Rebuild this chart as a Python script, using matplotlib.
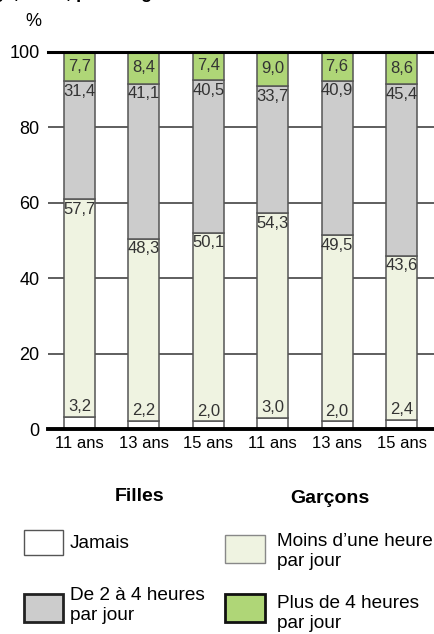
import matplotlib
matplotlib.use("Agg")
import matplotlib.pyplot as plt
from matplotlib.patches import Rectangle
import numpy as np

# data
ages = ["11 ans", "13 ans", "15 ans", "11 ans", "13 ans", "15 ans"]
groups = ["Filles", "Garçons"]
jamais = [3.2, 2.2, 2.0, 3.0, 2.0, 2.4]
moins_1h = [57.7, 48.3, 50.1, 54.3, 49.5, 43.6]
de_2_a_4h = [31.4, 41.1, 40.5, 33.7, 40.9, 45.4]
plus_4h = [7.7, 8.4, 7.4, 9.0, 7.6, 8.6]
series_names = ["Jamais", "Moins d\u2019une heure\npar jour",
                "De 2 à 4 heures\npar jour", "Plus de 4 heures\npar jour"]
colors = ["#ffffff", "#eff3e1", "#cccccc", "#afd677"]

plt.rcParams['font.family'] = ['Liberation Sans', 'DejaVu Sans']
narrow = ['Liberation Sans Narrow', 'Liberation Sans', 'DejaVu Sans']

W, H = 435, 634
fig = plt.figure(figsize=(W / 100, H / 100), dpi=100)
ax = fig.add_axes([48 / W, (H - 429) / H, (W - 48) / W, 377 / H])

x = np.arange(len(ages))
bw = 0.48
series = [jamais, moins_1h, de_2_a_4h, plus_4h]
bottom = np.zeros(len(ages))
tops = []
for vals, col in zip(series, colors):
    ax.bar(x, vals, bw, bottom=bottom, color=col, edgecolor="#555555",
           linewidth=1.1, zorder=3)
    bottom = bottom + np.array(vals)
    tops.append(bottom.copy())

def fmt(v):
    return f"{v:.1f}".replace(".", ",")

lab_kw = dict(ha="center", fontsize=12, color="#333333", family=narrow, zorder=4)
for i in range(len(ages)):
    # jamais: just above its segment
    ax.annotate(fmt(jamais[i]), (x[i], tops[0][i]), xytext=(0, 2),
                textcoords="offset points", va="bottom", **lab_kw)
    # moins / 2-4h: at top of segment
    ax.annotate(fmt(moins_1h[i]), (x[i], tops[1][i]), xytext=(0, -2),
                textcoords="offset points", va="top", **lab_kw)
    ax.annotate(fmt(de_2_a_4h[i]), (x[i], tops[2][i]), xytext=(0, -2),
                textcoords="offset points", va="top", **lab_kw)
    # plus de 4h: centred
    ax.text(x[i], tops[2][i] + plus_4h[i] / 2, fmt(plus_4h[i]), va="center", **lab_kw)

ax.set_xlim(-0.49, 5.52)
ax.set_ylim(0, 100)
for s in ax.spines.values():
    s.set_visible(False)
for yv in [20, 40, 60, 80]:
    ax.axhline(yv, color="#333333", linewidth=1.1, zorder=1)
ax.axhline(100, color="black", linewidth=2.2, zorder=5, clip_on=False)
ax.axhline(0, color="black", linewidth=2.8, zorder=5, clip_on=False)
ax.set_yticks([0, 20, 40, 60, 80, 100])
ax.set_yticklabels(["0", "20", "40", "60", "80", "100"], fontsize=13)
ax.tick_params(axis="y", length=0, pad=6)
ax.set_xticks(x)
ax.set_xticklabels(ages, fontsize=12, family=narrow)
ax.tick_params(axis="x", length=0, pad=5)

fig.text(33 / W, 1 - 22 / H, "%", fontsize=13, ha="center", va="center")
# title cut off by the top edge, as in the reference
fig.text(-40 / W, 1 + 2.5 / H, "Usage, en %, pour l\u2019âge",
         fontsize=13, fontweight="bold", ha="left", va="baseline")

# group labels
fig.text(140 / W, 1 - 501 / H, groups[0], fontsize=14, fontweight="bold",
         ha="center", va="baseline")
fig.text(330 / W, 1 - 503 / H, groups[1], fontsize=14, fontweight="bold",
         ha="center", va="baseline")

# legend: box (left, top, right, bottom), edge colour, edge width, last-line baseline
boxes = [(24, 530, 63, 555, "#555555", 1.0), (225, 535, 265, 563, "#888888", 1.0),
         (24, 594, 63, 622, "#222222", 2.0), (225, 594, 265, 622, "#111111", 2.0)]
text_pos = [(70, 548), (277, 566), (70, 620), (277, 628)]
for (l, t, r, b, ec, lw), col, name, (tx, ty) in zip(boxes, colors, series_names, text_pos):
    fig.add_artist(Rectangle((l / W, 1 - b / H), (r - l) / W, (b - t) / H,
                             transform=fig.transFigure, facecolor=col,
                             edgecolor=ec, linewidth=lw))
    fig.text(tx / W, 1 - ty / H, name, fontsize=13.7, ha="left",
             va="baseline", linespacing=1.25)

fig.savefig("out.png", dpi=100)
